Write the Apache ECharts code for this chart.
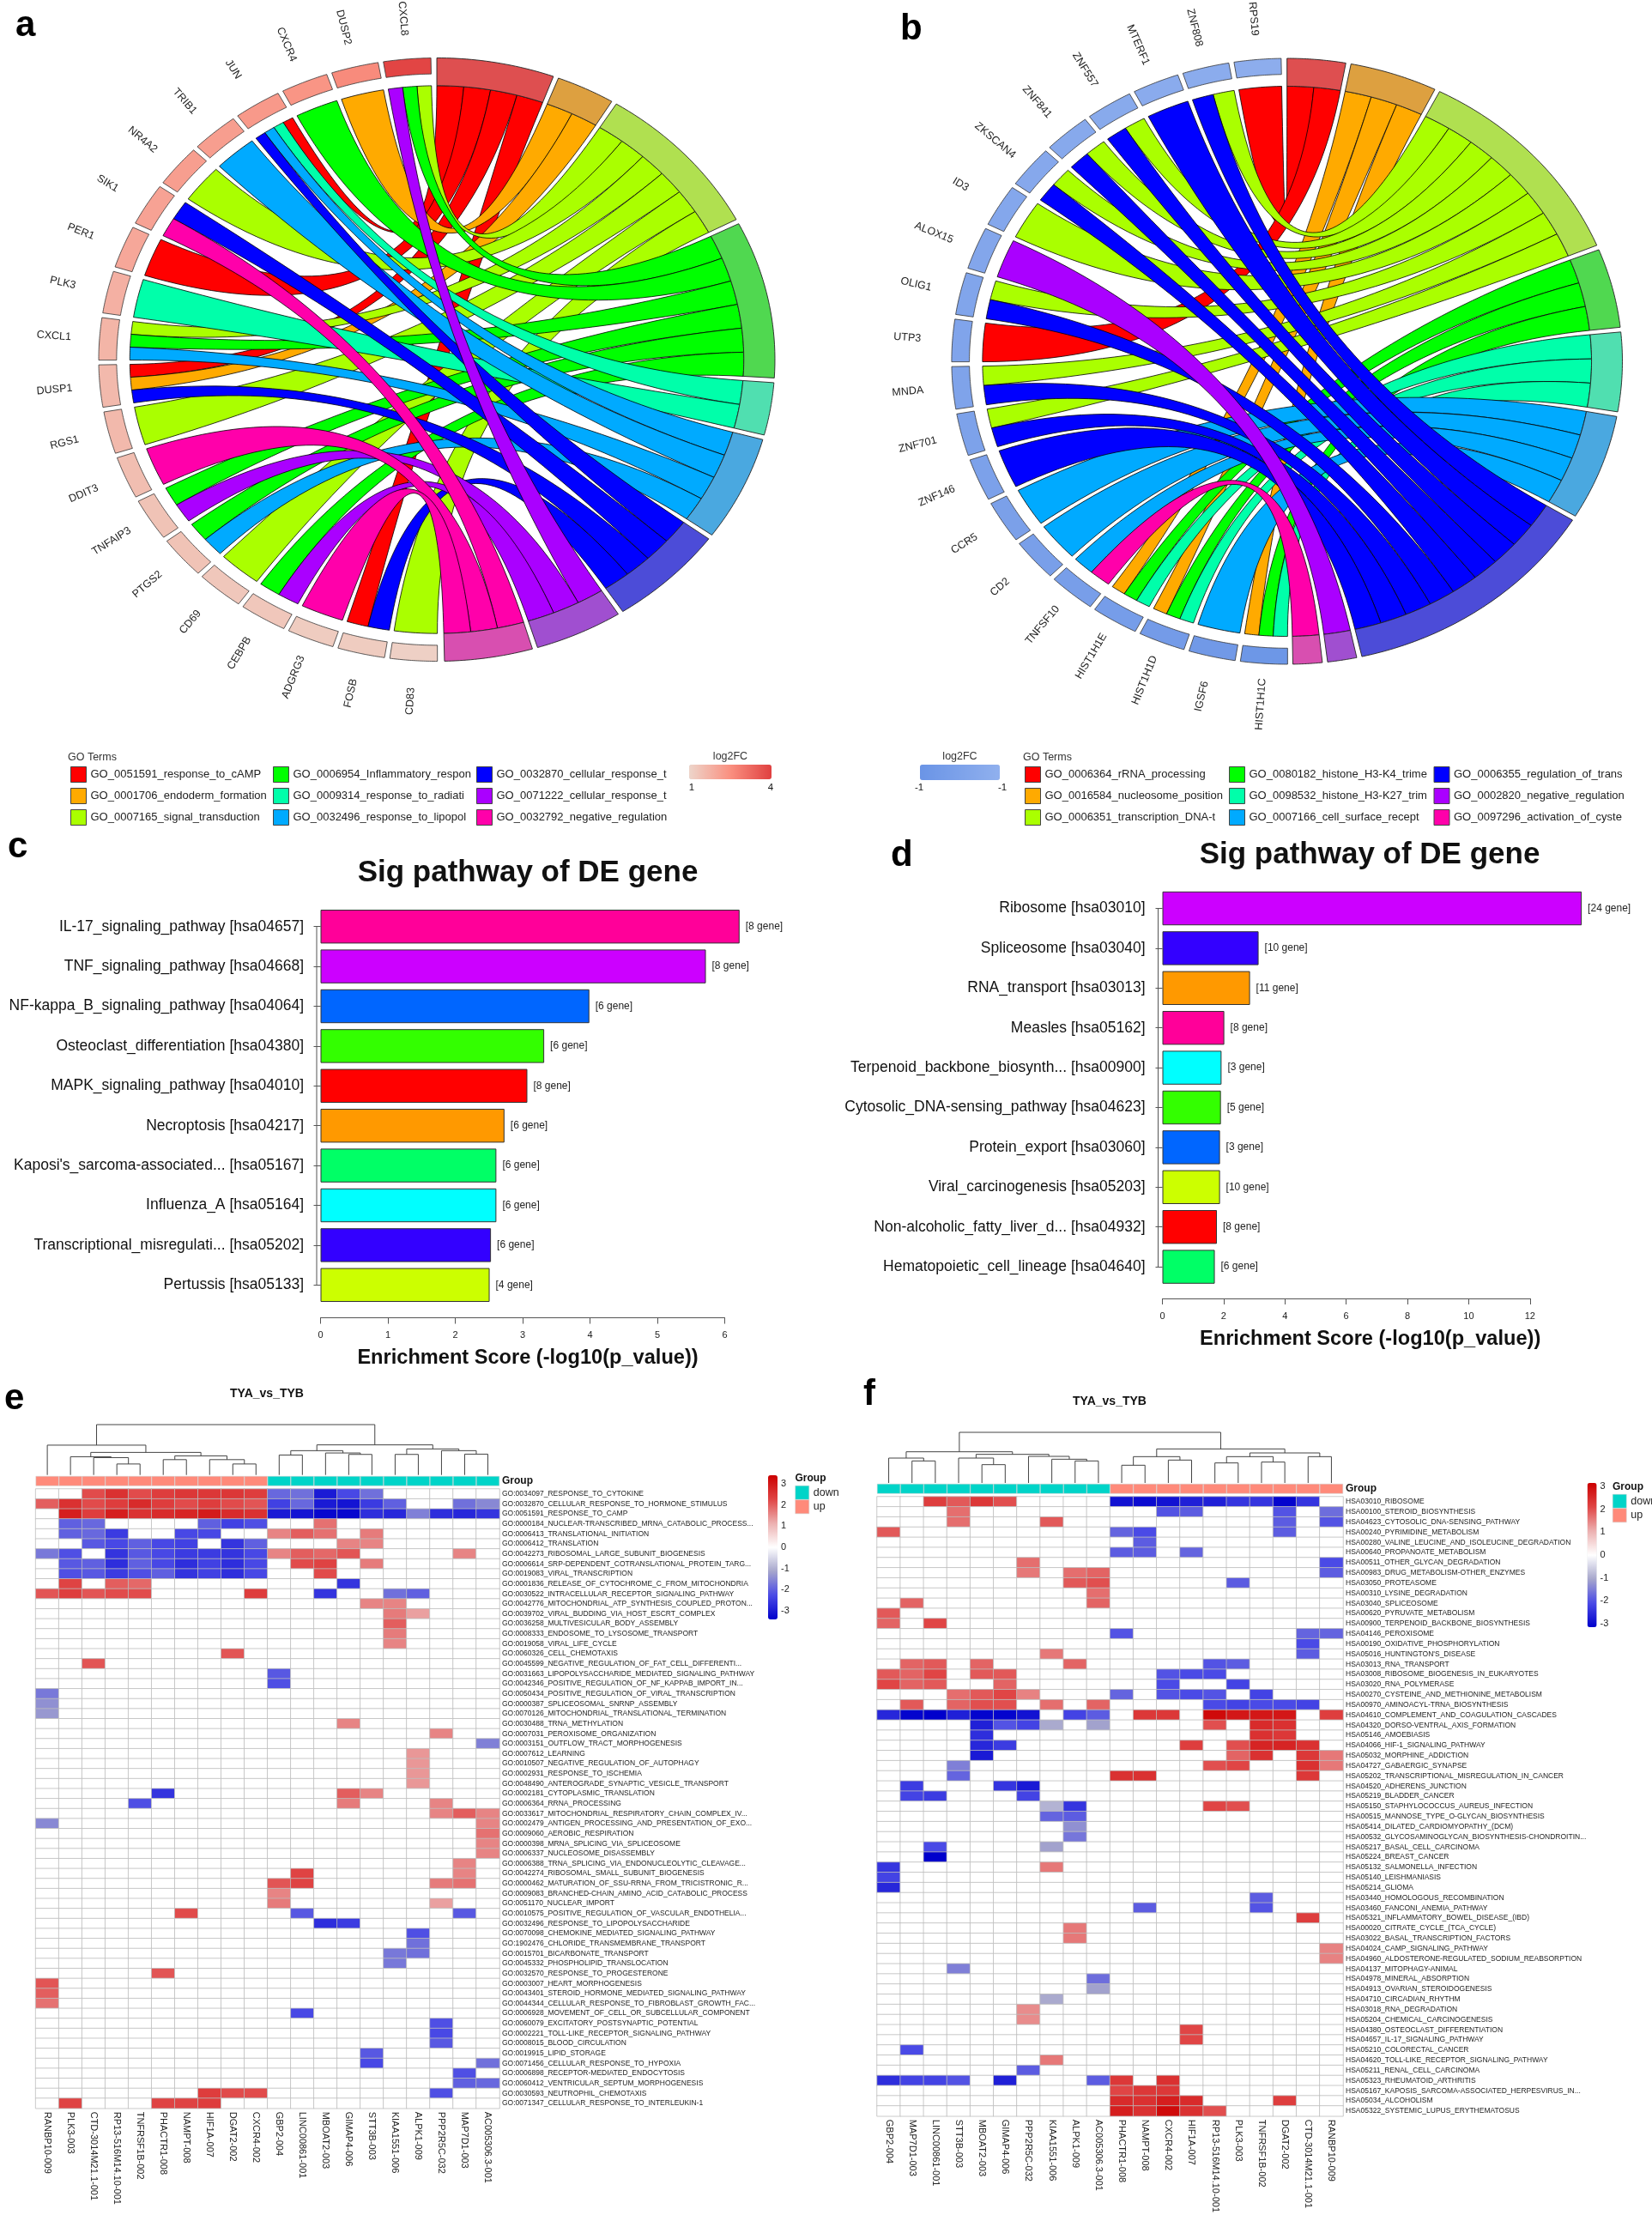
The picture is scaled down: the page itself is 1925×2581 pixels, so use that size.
<!DOCTYPE html>
<html><head><meta charset="utf-8">
<style>html,body{margin:0;padding:0;background:#fff}#main{width:1925px;height:2581px}</style>
<script src="https://cdn.jsdelivr.net/npm/echarts@6/dist/echarts.min.js"></script>
</head><body><div id="main"></div>
<script>
// ---------- DATA: chord a ----------
const termsA = ['GO_0051591_response_to_cAMP','GO_0001706_endoderm_formation','GO_0007165_signal_transduction','GO_0006954_Inflammatory_respon','GO_0009314_response_to_radiati','GO_0032496_response_to_lipopol','GO_0032870_cellular_response_t','GO_0071222_cellular_response_t','GO_0032792_negative_regulation'];
const genesA = ['CXCL8','DUSP2','CXCR4','JUN','TRIB1','NR4A2','SIK1','PER1','PLK3','CXCL1','DUSP1','RGS1','DDIT3','TNFAIP3','PTGS2','CD69','CEBPB','ADGRG3','FOSB','CD83'];
const fcA = [3.9,2.6,2.4,2.3,2.2,2.2,2.1,2.0,1.8,1.7,1.6,1.6,1.5,1.4,1.4,1.3,1.3,1.2,1.2,1.1];
const linksA = [[2,3,7],[1],[3],[0,4,5,6],[5],[2],[6,8],[0],[4],[2,3,5],[0,1,6],[2],[8],[3,7],[3,5],[2],[3,7],[8],[0,6],[2]];
// ---------- DATA: chord b ----------
const termsB = ['GO_0006364_rRNA_processing','GO_0016584_nucleosome_position','GO_0006351_transcription_DNA-t','GO_0080182_histone_H3-K4_trime','GO_0098532_histone_H3-K27_trim','GO_0007166_cell_surface_recept','GO_0006355_regulation_of_trans','GO_0002820_negative_regulation','GO_0097296_activation_of_cyste'];
const genesB = ['RPS19','ZNF808','MTERF1','ZNF557','ZNF841','ZKSCAN4','ID3','ALOX15','OLIG1','UTP3','MNDA','ZNF701','ZNF146','CCR5','CD2','TNFSF10','HIST1H1E','HIST1H1D','IGSF6','HIST1H1C'];
const fcB = [-1.0,-1.02,-1.04,-1.06,-1.08,-1.1,-1.12,-1.14,-1.16,-1.18,-1.2,-1.22,-1.24,-1.26,-1.28,-1.3,-1.32,-1.36,-1.4,-1.45];
const linksB = [[0],[2,6],[6],[2,6],[2,6],[2,6],[2],[7],[2,6],[0],[2,6],[2,6],[6],[5],[5],[5,8],[1,3,4],[1,3,4],[5],[1,3,4]];
// ---------- DATA: bars ----------
const pathC = ['IL-17_signaling_pathway [hsa04657]','TNF_signaling_pathway [hsa04668]','NF-kappa_B_signaling_pathway [hsa04064]','Osteoclast_differentiation [hsa04380]','MAPK_signaling_pathway [hsa04010]','Necroptosis [hsa04217]',"Kaposi's_sarcoma-associated... [hsa05167]",'Influenza_A [hsa05164]','Transcriptional_misregulati... [hsa05202]','Pertussis [hsa05133]'];
const scoreC = [6.22,5.72,3.99,3.32,3.07,2.73,2.61,2.61,2.53,2.51];
const geneC = [8,8,6,6,8,6,6,6,6,4];
const pathD = ['Ribosome [hsa03010]','Spliceosome [hsa03040]','RNA_transport [hsa03013]','Measles [hsa05162]','Terpenoid_backbone_biosynth... [hsa00900]','Cytosolic_DNA-sensing_pathway [hsa04623]','Protein_export [hsa03060]','Viral_carcinogenesis [hsa05203]','Non-alcoholic_fatty_liver_d... [hsa04932]','Hematopoietic_cell_lineage [hsa04640]'];
const scoreD = [13.69,3.14,2.86,2.02,1.93,1.91,1.88,1.88,1.78,1.71];
const geneD = [24,10,11,8,3,5,3,10,8,6];
// ---------- DATA: heatmap e ----------
const colsE = ['RANBP10-009','PLK3-003','CTD-3014M21.1-001','RP13-516M14.10-001','TNFRSF1B-002','PHACTR1-008','NAMPT-008','HIF1A-007','DGAT2-002','CXCR4-002','GBP2-004','LINC00861-001','MBOAT2-003','GIMAP4-006','STT3B-003','KIAA1551-006','ALPK1-009','PPP2R5C-032','MAP7D1-003','AC005306.3-001'];
const groupE = ['up','up','up','up','up','up','up','up','up','up','down','down','down','down','down','down','down','down','down','down'];
const rowsE = ['GO:0034097_RESPONSE_TO_CYTOKINE','GO:0032870_CELLULAR_RESPONSE_TO_HORMONE_STIMULUS','GO:0051591_RESPONSE_TO_CAMP','GO:0000184_NUCLEAR-TRANSCRIBED_MRNA_CATABOLIC_PROCESS...','GO:0006413_TRANSLATIONAL_INITIATION','GO:0006412_TRANSLATION','GO:0042273_RIBOSOMAL_LARGE_SUBUNIT_BIOGENESIS','GO:0006614_SRP-DEPENDENT_COTRANSLATIONAL_PROTEIN_TARG...','GO:0019083_VIRAL_TRANSCRIPTION','GO:0001836_RELEASE_OF_CYTOCHROME_C_FROM_MITOCHONDRIA','GO:0030522_INTRACELLULAR_RECEPTOR_SIGNALING_PATHWAY','GO:0042776_MITOCHONDRIAL_ATP_SYNTHESIS_COUPLED_PROTON...','GO:0039702_VIRAL_BUDDING_VIA_HOST_ESCRT_COMPLEX','GO:0036258_MULTIVESICULAR_BODY_ASSEMBLY','GO:0008333_ENDOSOME_TO_LYSOSOME_TRANSPORT','GO:0019058_VIRAL_LIFE_CYCLE','GO:0060326_CELL_CHEMOTAXIS','GO:0045599_NEGATIVE_REGULATION_OF_FAT_CELL_DIFFERENTI...','GO:0031663_LIPOPOLYSACCHARIDE_MEDIATED_SIGNALING_PATHWAY','GO:0042346_POSITIVE_REGULATION_OF_NF_KAPPAB_IMPORT_IN...','GO:0050434_POSITIVE_REGULATION_OF_VIRAL_TRANSCRIPTION','GO:0000387_SPLICEOSOMAL_SNRNP_ASSEMBLY','GO:0070126_MITOCHONDRIAL_TRANSLATIONAL_TERMINATION','GO:0030488_TRNA_METHYLATION','GO:0007031_PEROXISOME_ORGANIZATION','GO:0003151_OUTFLOW_TRACT_MORPHOGENESIS','GO:0007612_LEARNING','GO:0010507_NEGATIVE_REGULATION_OF_AUTOPHAGY','GO:0002931_RESPONSE_TO_ISCHEMIA','GO:0048490_ANTEROGRADE_SYNAPTIC_VESICLE_TRANSPORT','GO:0002181_CYTOPLASMIC_TRANSLATION','GO:0006364_RRNA_PROCESSING','GO:0033617_MITOCHONDRIAL_RESPIRATORY_CHAIN_COMPLEX_IV...','GO:0002479_ANTIGEN_PROCESSING_AND_PRESENTATION_OF_EXO...','GO:0009060_AEROBIC_RESPIRATION','GO:0000398_MRNA_SPLICING_VIA_SPLICEOSOME','GO:0006337_NUCLEOSOME_DISASSEMBLY','GO:0006388_TRNA_SPLICING_VIA_ENDONUCLEOLYTIC_CLEAVAGE...','GO:0042274_RIBOSOMAL_SMALL_SUBUNIT_BIOGENESIS','GO:0000462_MATURATION_OF_SSU-RRNA_FROM_TRICISTRONIC_R...','GO:0009083_BRANCHED-CHAIN_AMINO_ACID_CATABOLIC_PROCESS','GO:0051170_NUCLEAR_IMPORT','GO:0010575_POSITIVE_REGULATION_OF_VASCULAR_ENDOTHELIA...','GO:0032496_RESPONSE_TO_LIPOPOLYSACCHARIDE','GO:0070098_CHEMOKINE_MEDIATED_SIGNALING_PATHWAY','GO:1902476_CHLORIDE_TRANSMEMBRANE_TRANSPORT','GO:0015701_BICARBONATE_TRANSPORT','GO:0045332_PHOSPHOLIPID_TRANSLOCATION','GO:0032570_RESPONSE_TO_PROGESTERONE','GO:0003007_HEART_MORPHOGENESIS','GO:0043401_STEROID_HORMONE_MEDIATED_SIGNALING_PATHWAY','GO:0044344_CELLULAR_RESPONSE_TO_FIBROBLAST_GROWTH_FAC...','GO:0006928_MOVEMENT_OF_CELL_OR_SUBCELLULAR_COMPONENT','GO:0060079_EXCITATORY_POSTSYNAPTIC_POTENTIAL','GO:0002221_TOLL-LIKE_RECEPTOR_SIGNALING_PATHWAY','GO:0008015_BLOOD_CIRCULATION','GO:0019915_LIPID_STORAGE','GO:0071456_CELLULAR_RESPONSE_TO_HYPOXIA','GO:0006898_RECEPTOR-MEDIATED_ENDOCYTOSIS','GO:0060412_VENTRICULAR_SEPTUM_MORPHOGENESIS','GO:0030593_NEUTROPHIL_CHEMOTAXIS','GO:0071347_CELLULAR_RESPONSE_TO_INTERLEUKIN-1'];
// each row: [column, value] pairs for the coloured cells
const cellsE = [
[[2,2.2],[3,2.6],[4,2.2],[5,2.4],[6,2.5],[7,2.5],[8,2.5],[9,2.4],[10,-1.9],[11,-1.8],[12,-3.0],[13,-2.3],[14,-1.8]],
[[0,2.0],[1,2.6],[2,2.2],[3,2.4],[4,2.7],[5,2.4],[6,2.2],[7,2.4],[8,2.2],[9,2.1],[10,-2.4],[11,-1.9],[12,-3.0],[13,-3.1],[14,-2.5],[15,-2.0],[18,-1.8],[19,-1.5]],
[[1,2.9],[2,2.4],[3,2.9],[4,2.6],[5,2.7],[6,2.8],[7,2.95],[8,2.7],[9,2.6],[10,-3.0],[11,-3.1],[12,-3.3],[13,-3.3],[14,-2.7],[15,-2.8],[16,-1.6],[17,-2.7],[18,-2.8],[19,-2.6]],
[[1,-2.0],[2,-1.9],[7,-2.0],[8,-2.4],[9,-2.2],[12,1.8]],
[[1,-2.0],[2,-1.9],[3,-2.5],[6,-2.3],[7,-2.3],[10,1.6],[11,2.0],[12,1.8],[14,1.7]],
[[2,-2.1],[3,-2.3],[4,-2.0],[5,-2.3],[6,-2.4],[8,-2.6],[9,-2.0],[13,1.6],[14,1.6]],
[[0,-1.7],[1,-2.2],[3,-2.6],[4,-2.1],[5,-2.3],[6,-2.5],[7,-2.5],[8,-2.6],[9,-2.3],[10,1.6],[11,2.0],[12,1.9],[13,2.1],[18,1.6]],
[[1,-2.1],[2,-2.0],[3,-2.7],[4,-2.0],[5,-2.3],[6,-2.7],[7,-2.4],[8,-2.7],[9,-2.3],[11,2.2],[12,2.3],[14,1.7]],
[[1,-2.2],[2,-2.1],[3,-2.5],[4,-2.2],[5,-2.0],[6,-2.6],[7,-2.4],[8,-2.7],[9,-2.3],[12,2.2]],
[[1,2.3],[3,2.0],[4,1.9],[13,-2.6]],
[[0,2.1],[1,2.4],[2,2.1],[3,2.2],[4,2.2],[9,2.4],[12,-2.6],[15,-1.8],[16,-2.0]],
[[14,1.6],[15,1.6]],
[[15,1.7],[16,1.3]],
[[15,2.0]],
[[15,1.7]],
[[15,1.6]],
[[8,2.1]],
[[2,2.1]],
[[10,-2.1]],
[[10,-2.2]],
[[0,-1.7]],
[[0,-1.4]],
[[0,-1.3]],
[[13,1.6]],
[[17,1.6]],
[[19,-1.6]],
[[16,1.4]],
[[16,1.4]],
[[16,1.4]],
[[16,1.4]],
[[5,-2.6],[13,2.0],[14,1.6]],
[[4,-2.2],[13,1.7],[17,1.6]],
[[17,1.6],[18,2.0],[19,1.6]],
[[0,-1.5],[19,1.6]],
[[19,1.8]],
[[19,1.6]],
[[19,1.6]],
[[18,1.6]],
[[11,2.3],[18,1.6]],
[[10,2.1],[11,2.3],[17,1.7],[18,1.8]],
[[10,1.6]],
[[10,1.7],[17,1.3]],
[[6,2.2],[11,-2.1],[18,-2.1]],
[[12,-2.7],[13,-2.5]],
[[16,-2.2]],
[[16,-1.8]],
[[15,-1.7],[16,-1.8]],
[[15,-1.7]],
[[5,2.1]],
[[0,2.1]],
[[0,2.0]],
[[0,1.8]],
[[11,-2.3]],
[[17,-2.2]],
[[17,-2.3]],
[[17,-2.1]],
[[14,-2.1]],
[[14,-2.3],[19,-1.8]],
[[18,-2.2]],
[[18,-2.0],[19,-1.9]],
[[7,2.4],[8,2.2],[9,2.2],[17,-2.2]],
[[1,2.3],[5,2.3],[6,2.3],[7,2.4]]
];
// clustering: [left, right, height]; negative = leaf -(i+1), positive = earlier merge (1-based)
const treeE = [[-4,-5,38],[-3,1,60],[-2,2,63],[-6,-7,53],[-9,-10,38],[-8,5,53],[4,6,66],[3,7,78],[-1,8,103],[-11,-12,69],[-14,-15,71],[-13,11,76],[10,12,84],[-16,-17,71],[-19,-20,72],[-18,15,84],[14,16,90],[13,17,104],[9,18,174]];
// ---------- DATA: heatmap f ----------
const colsF = ['GBP2-004','MAP7D1-003','LINC00861-001','STT3B-003','MBOAT2-003','GIMAP4-006','PPP2R5C-032','KIAA1551-006','ALPK1-009','AC005306.3-001','PHACTR1-008','NAMPT-008','CXCR4-002','HIF1A-007','RP13-516M14.10-001','PLK3-003','TNFRSF1B-002','DGAT2-002','CTD-3014M21.1-001','RANBP10-009'];
const groupF = ['down','down','down','down','down','down','down','down','down','down','up','up','up','up','up','up','up','up','up','up'];
const rowsF = ['HSA03010_RIBOSOME','HSA00100_STEROID_BIOSYNTHESIS','HSA04623_CYTOSOLIC_DNA-SENSING_PATHWAY','HSA00240_PYRIMIDINE_METABOLISM','HSA00280_VALINE_LEUCINE_AND_ISOLEUCINE_DEGRADATION','HSA00640_PROPANOATE_METABOLISM','HSA00511_OTHER_GLYCAN_DEGRADATION','HSA00983_DRUG_METABOLISM-OTHER_ENZYMES','HSA03050_PROTEASOME','HSA00310_LYSINE_DEGRADATION','HSA03040_SPLICEOSOME','HSA00620_PYRUVATE_METABOLISM','HSA00900_TERPENOID_BACKBONE_BIOSYNTHESIS','HSA04146_PEROXISOME','HSA00190_OXIDATIVE_PHOSPHORYLATION',"HSA05016_HUNTINGTON'S_DISEASE",'HSA03013_RNA_TRANSPORT','HSA03008_RIBOSOME_BIOGENESIS_IN_EUKARYOTES','HSA03020_RNA_POLYMERASE','HSA00270_CYSTEINE_AND_METHIONINE_METABOLISM','HSA00970_AMINOACYL-TRNA_BIOSYNTHESIS','HSA04610_COMPLEMENT_AND_COAGULATION_CASCADES','HSA04320_DORSO-VENTRAL_AXIS_FORMATION','HSA05146_AMOEBIASIS','HSA04066_HIF-1_SIGNALING_PATHWAY','HSA05032_MORPHINE_ADDICTION','HSA04727_GABAERGIC_SYNAPSE','HSA05202_TRANSCRIPTIONAL_MISREGULATION_IN_CANCER','HSA04520_ADHERENS_JUNCTION','HSA05219_BLADDER_CANCER','HSA05150_STAPHYLOCOCCUS_AUREUS_INFECTION','HSA00515_MANNOSE_TYPE_O-GLYCAN_BIOSYNTHESIS','HSA05414_DILATED_CARDIOMYOPATHY_(DCM)','HSA00532_GLYCOSAMINOGLYCAN_BIOSYNTHESIS-CHONDROITIN...','HSA05217_BASAL_CELL_CARCINOMA','HSA05224_BREAST_CANCER','HSA05132_SALMONELLA_INFECTION','HSA05140_LEISHMANIASIS','HSA05214_GLIOMA','HSA03440_HOMOLOGOUS_RECOMBINATION','HSA03460_FANCONI_ANEMIA_PATHWAY','HSA05321_INFLAMMATORY_BOWEL_DISEASE_(IBD)','HSA00020_CITRATE_CYCLE_(TCA_CYCLE)','HSA03022_BASAL_TRANSCRIPTION_FACTORS','HSA04024_CAMP_SIGNALING_PATHWAY','HSA04960_ALDOSTERONE-REGULATED_SODIUM_REABSORPTION','HSA04137_MITOPHAGY-ANIMAL','HSA04978_MINERAL_ABSORPTION','HSA04913_OVARIAN_STEROIDOGENESIS','HSA04710_CIRCADIAN_RHYTHM','HSA03018_RNA_DEGRADATION','HSA05204_CHEMICAL_CARCINOGENESIS','HSA04380_OSTEOCLAST_DIFFERENTIATION','HSA04657_IL-17_SIGNALING_PATHWAY','HSA05210_COLORECTAL_CANCER','HSA04620_TOLL-LIKE_RECEPTOR_SIGNALING_PATHWAY','HSA05211_RENAL_CELL_CARCINOMA','HSA05323_RHEUMATOID_ARTHRITIS','HSA05167_KAPOSIS_SARCOMA-ASSOCIATED_HERPESVIRUS_IN...','HSA05034_ALCOHOLISM','HSA05322_SYSTEMIC_LUPUS_ERYTHEMATOSUS'];
const cellsF = [
[[2,2.2],[3,1.9],[4,2.3],[5,2.0],[10,-2.9],[11,-3.0],[12,-2.9],[13,-2.7],[14,-2.7],[15,-2.4],[16,-2.4],[17,-3.1],[18,-2.4]],
[[3,1.7],[12,-2.0],[13,-1.9],[17,-2.0],[19,-1.7]],
[[3,1.7],[7,1.9],[17,-1.9],[19,-2.0]],
[[0,1.9],[10,-1.8],[11,-2.1],[17,-1.9]],
[[11,-1.9]],
[[10,-1.9],[11,-1.9],[13,-1.8]],
[[6,1.7],[19,-2.1]],
[[6,1.6],[8,1.7],[9,1.8],[19,-1.9]],
[[8,1.9],[9,2.0],[15,-1.9]],
[[9,1.7]],
[[1,1.8],[9,1.8]],
[[0,1.9]],
[[0,1.8],[2,2.1]],
[[10,-2.0],[18,-1.8],[19,-1.8]],
[[18,-2.1]],
[[7,1.6],[18,-1.9]],
[[1,1.8],[2,1.9],[4,1.8],[8,1.8],[14,-2.0],[15,-1.9]],
[[0,1.9],[1,1.8],[2,2.1],[4,1.9],[5,1.9],[12,-2.0],[13,-2.1],[14,-2.1]],
[[0,2.1],[1,1.8],[2,1.9],[5,1.8],[12,-2.1],[15,-2.2]],
[[3,1.7],[4,1.9],[5,2.1],[6,1.5],[10,-1.8],[12,-2.0],[13,-2.1],[14,-2.0],[16,-2.2]],
[[1,1.9],[3,1.8],[4,2.0],[5,2.0],[7,1.7],[9,1.8],[14,-2.1],[15,-2.2],[16,-2.1],[17,-2.1],[18,-2.2]],
[[0,-2.6],[1,-3.1],[2,-3.3],[3,-2.7],[4,-3.1],[5,-3.1],[6,-2.9],[8,-2.2],[9,-1.9],[11,2.3],[12,2.3],[14,3.0],[15,2.8],[16,2.8],[17,2.8],[19,2.2]],
[[4,-2.7],[5,-2.0],[6,-2.2],[7,-1.0],[9,-1.1],[14,2.0],[16,2.5],[17,2.4]],
[[4,-2.5],[16,2.4],[17,2.3]],
[[4,-2.6],[5,-2.3],[13,2.2],[15,2.0],[16,2.6],[17,2.6],[18,2.4]],
[[4,-2.8],[15,1.8],[16,2.4],[18,2.3],[19,1.6]],
[[3,-1.5],[14,2.0],[15,2.1],[18,2.4],[19,1.6]],
[[3,-1.8],[10,2.4],[11,2.4],[18,2.3]],
[[1,-2.3],[5,-2.4],[6,-2.8]],
[[1,-2.2],[2,-2.3],[6,-2.2]],
[[7,-0.9],[8,-2.4],[14,2.1],[15,2.0]],
[[7,-1.8],[8,-1.9]],
[[8,-1.3]],
[[8,-1.6]],
[[2,-2.1],[7,-1.1]],
[[2,-3.3]],
[[0,-2.4],[7,1.6]],
[[0,-2.2]],
[[0,-2.6]],
[[16,-1.9]],
[[11,-1.9],[16,-2.0]],
[[18,2.2]],
[[8,1.6]],
[[8,1.6]],
[[19,1.5]],
[[19,1.5]],
[[3,-1.5]],
[[9,-1.7]],
[[9,-1.1]],
[[7,-1.0]],
[[6,1.4]],
[[6,1.4]],
[[13,2.1]],
[[13,2.1]],
[[1,-2.1]],
[[7,1.6]],
[[6,-1.9]],
[[0,-2.5],[1,-2.2],[2,-2.2],[3,-2.0],[5,-2.7],[9,-1.9],[10,2.3],[12,2.4]],
[[10,2.1],[11,2.3],[12,2.3]],
[[10,2.5],[11,2.4],[12,2.7],[13,2.5],[17,2.2]],
[[10,2.7],[11,2.4],[12,3.0],[13,2.4],[14,2.0]]
];
const treeF = [[-2,-3,77],[-1,1,87],[-5,-6,64],[-4,3,87],[-9,-10,77],[-8,5,83],[-7,6,93],[4,7,100],[2,8,109],[-11,-12,62],[-13,-14,80],[10,11,92],[-15,-16,70],[-17,-18,73],[13,14,92],[-19,-20,92],[15,16,105],[12,17,119],[9,18,177]];

// ---------- STYLES ----------
const FONT = '"Liberation Sans"';
const ribbonColors = ['#ff0000','#ffaa00','#aaff00','#00ff00','#00ffaa','#00aaff','#0000ff','#aa00ff','#ff00aa'];
const ringColors = ['#de4f50','#dda040','#b0e050','#50d850','#50dfb0','#4aa8e0','#4c4cd8','#a04fd0','#d84fb0'];
const barColorsC = ['#FF0099','#CC00FF','#0066FF','#33FF00','#FF0000','#FF9900','#00FF66','#00FFFF','#3300FF','#CCFF00'];
const barColorsD = ['#CC00FF','#3300FF','#FF9900','#FF0099','#00FFFF','#33FF00','#0066FF','#CCFF00','#FF0000','#00FF66'];
const heatRamp = ['#0000cc','#4a4ae6','#a6a6cc','#ffffff','#ecb0b0','#e04545','#cc0000'];
const groupColors = {up:'#ff8a7a', down:'#00d4c8'};

const grid=[],xAxis=[],yAxis=[],series=[],visualMap=[],legend=[],graphic=[];
function text(t,x,y,size,opt){opt=opt||{};graphic.push({type:'text',x:x,y:y,silent:true,rotation:opt.rot||0,style:{text:t,fill:opt.fill||'#111',font:(opt.bold?'bold ':'')+size+'px '+FONT,align:opt.align||'left',verticalAlign:'middle'}});}
function addGrid(rect,xa,ya){grid.push(Object.assign({containLabel:false},rect));const i=grid.length-1;xAxis.push(Object.assign({gridIndex:i},xa));yAxis.push(Object.assign({gridIndex:i},ya));return i;}
const hiddenValue=(min,max)=>({type:'value',min:min,max:max,show:false,splitLine:{show:false}});

// ---------- chord ----------
function chord(cfg){
  const g=addGrid({left:cfg.cx-cfg.rx,top:cfg.cy-cfg.ry,width:2*cfg.rx,height:2*cfg.ry},hiddenValue(-1,1),hiddenValue(-1,1));
  const genes=cfg.genes,links=cfg.links,terms=cfg.terms;
  const counts=terms.map((_,t)=>links.reduce((s,l)=>s+(l.includes(t)?1:0),0));
  const total=counts.reduce((a,b)=>a+b,0);
  const unit=(cfg.span-cfg.gap*(terms.length-1))/total;
  const starts=[];let pos=0;counts.forEach((c,i)=>{starts[i]=pos;pos+=c*unit+cfg.gap;});
  const geneDeg=(i,frac)=>360-(1+9*i+8.1*frac);
  const used=terms.map(()=>0);
  const byTerm=terms.map(()=>[]);
  links.forEach((l,gi)=>l.forEach((t,si)=>{byTerm[t].push([gi,si,l.length,t,used[t]]);used[t]++;}));
  const unitPt=(r,d)=>{const a=d*Math.PI/180;return [r*Math.sin(a),r*Math.cos(a)];};
  const arc=(r,d0,d1,n)=>{const o=[];for(let k=0;k<=n;k++)o.push(unitPt(r,d0+(d1-d0)*k/n));return o;};
  const bez=(A,B,n)=>{const o=[];for(let k=1;k<n;k++){const s=k/n,p=(1-s)*(1-s),q=s*s;o.push([p*A[0]+q*B[0],p*A[1]+q*B[1]]);}return o;};
  const ring=(r0,r1,d0,d1)=>arc(r1,d0,d1,24).concat(arc(r0,d1,d0,24));
  const base={coordinateSystem:'cartesian2d',xAxisIndex:g,yAxisIndex:g,type:'custom',silent:true,animation:false,clip:false};
  // ribbons, one series per term so later terms lie on top
  terms.forEach((name,t)=>{
    series.push(Object.assign({},base,{name:name,itemStyle:{color:ribbonColors[t],borderColor:'#333',borderWidth:1},
      data:byTerm[t],
      renderItem:(p,api)=>{
        const gi=api.value(0),si=api.value(1),n=api.value(2),tt=api.value(3),st=api.value(4);
        const g0=geneDeg(gi,si/n),g1=geneDeg(gi,(si+1)/n);
        const t0=starts[tt]+st*unit,t1=t0+unit,R=.908;
        const a=arc(R,g0,g1,8),b=arc(R,t1,t0,8);
        const pts=a.concat(bez(a[a.length-1],b[0],50),b,bez(b[b.length-1],a[0],50));
        return {type:'polygon',shape:{points:pts.map(q=>api.coord(q))},style:{fill:ribbonColors[tt],stroke:'#000',lineWidth:.8}};
      }}));
  });
  // term ring
  series.push(Object.assign({},base,{data:terms.map((_,t)=>[t]),renderItem:(p,api)=>{
    const t=api.value(0),d0=starts[t],d1=d0+counts[t]*unit;
    return {type:'polygon',shape:{points:ring(.908,1,d0,d1).map(q=>api.coord(q))},style:{fill:ringColors[t],stroke:'#222',lineWidth:.9}};
  }}));
  // gene ring + labels, coloured by log2FC through a visualMap
  const idx=series.length;
  series.push(Object.assign({},base,{data:genes.map((_,i)=>[i,cfg.fc[i]]),renderItem:(p,api)=>{
    const i=api.value(0),d0=geneDeg(i,0),d1=geneDeg(i,1);
    const mid=geneDeg(i,.5),c=api.coord(unitPt(1.135,mid)),phi=360-mid;
    return {type:'group',children:[
      {type:'polygon',shape:{points:ring(.947,1,d0,d1).map(q=>api.coord(q))},style:{fill:api.visual('color'),stroke:'#333',lineWidth:.8}},
      {type:'text',x:c[0],y:c[1],rotation:-(90-phi)*Math.PI/180,style:{text:genes[i],align:'center',verticalAlign:'middle',fill:'#222',font:'12.5px '+FONT}}
    ]};
  }}));
  visualMap.push({type:'continuous',seriesIndex:idx,dimension:1,min:cfg.vmin,max:cfg.vmax,orient:'horizontal',calculable:false,hoverLink:false,
    left:cfg.bar[0],top:cfg.bar[1],itemWidth:cfg.bar[3],itemHeight:cfg.bar[2],padding:0,text:null,showLabel:false,inRange:{color:cfg.ramp}});
  // legend in three columns
  [0,1,2].forEach(c=>legend.push({orient:'vertical',left:cfg.legendX[c],top:893,padding:0,itemWidth:18,itemHeight:18,itemGap:6,icon:'rect',selectedMode:false,
    data:terms.slice(c*3,c*3+3),textStyle:{fontSize:13,fontFamily:FONT,color:'#222'},itemStyle:{borderColor:'#444',borderWidth:1}}));
}
chord({cx:509,cy:419,rx:394,ry:351.5,genes:genesA,terms:termsA,links:linksA,fc:fcA,span:178.7,gap:.9,vmin:1,vmax:4,ramp:['#edd5ca','#fa9080','#e04040'],bar:[803,891,96,17],legendX:[82,318,555]});
chord({cx:1499.7,cy:421,rx:390.8,ry:353,genes:genesB,terms:termsB,links:linksB,fc:fcB,span:179,gap:.9,vmin:-1.5,vmax:-.95,ramp:['#6a94e6','#90b0ee'],bar:[1072,891,93,18],legendX:[1194,1432,1670.5]});
text('GO Terms',79,883,12.5,{fill:'#333'});text('log2FC',851,882,12.5,{align:'center',fill:'#333'});text('1',806,918,11.5,{align:'center'});text('4',898,918,11.5,{align:'center'});
text('GO Terms',1192,883,12.5,{fill:'#333'});text('log2FC',1118.5,882,12.5,{align:'center',fill:'#333'});text('-1',1071,918,11.5,{align:'center'});text('-1',1168,918,11.5,{align:'center'});

// ---------- bars ----------
function bars(cfg){
  const g=addGrid({left:cfg.left,top:cfg.top,width:cfg.width,height:464},
    {type:'value',min:0,max:cfg.max,interval:cfg.step,offset:cfg.xOffset,position:'bottom',splitLine:{show:false},
     axisLine:{show:true,onZero:false,lineStyle:{color:'#555',width:1}},axisTick:{show:true,length:7,lineStyle:{color:'#555'}},
     axisLabel:{fontSize:11,color:'#222',margin:15,fontFamily:FONT},
     name:'Enrichment Score (-log10(p_value))',nameLocation:'middle',nameGap:35,nameTextStyle:{fontSize:23.6,fontWeight:'bold',color:'#111',fontFamily:FONT,padding:[0,0,0,cfg.namePad]}},
    {type:'category',inverse:true,data:cfg.names,offset:cfg.yOffset,position:'left',axisLine:{show:false},
     axisTick:{show:true,alignWithLabel:true,length:8,lineStyle:{color:'#555'}},
     axisLabel:{interval:0,fontSize:17.5,color:'#111',margin:15,fontFamily:FONT},splitLine:{show:false}});
  series.push({type:'bar',xAxisIndex:g,yAxisIndex:g,barWidth:39.4,clip:false,silent:true,animation:false,
    data:cfg.values.map((v,i)=>({value:v,itemStyle:{color:cfg.colors[i],borderColor:'#333',borderWidth:1},
      label:{show:true,position:'right',distance:7,fontSize:12,color:'#222',fontFamily:FONT,formatter:'['+cfg.counts[i]+' gene]'}}))});
  // the y axis spine only runs from the first to the last label
  series.push({type:'custom',xAxisIndex:g,yAxisIndex:g,silent:true,animation:false,clip:false,data:[[0,0]],renderItem:(p,api)=>{
    const a=api.coord([0,0]),b=api.coord([0,cfg.names.length-1]);
    return {type:'line',shape:{x1:a[0]-cfg.yOffset,y1:a[1],x2:b[0]-cfg.yOffset,y2:b[1]},style:{stroke:'#555',lineWidth:1}};
  }});
  text('Sig pathway of DE gene',cfg.titleX,cfg.titleY,35,{bold:true,align:'center'});
}
bars({left:373.5,top:1056.5,width:471,max:6,step:1,xOffset:15,yOffset:4.5,names:pathC,values:scoreC,counts:geneC,colors:barColorsC,titleX:615,titleY:1017,namePad:12});
bars({left:1354.5,top:1035.3,width:428.3,max:12,step:2,xOffset:13.7,yOffset:5,names:pathD,values:scoreD,counts:geneD,colors:barColorsD,titleX:1596,titleY:996,namePad:56});

// ---------- heatmaps ----------
function treeRows(tree){
  const nodes=[];
  const at=v=>v<0?[-v-1+.5,0]:nodes[v-1];
  return tree.map(m=>{const a=at(m[0]),b=at(m[1]);nodes.push([(a[0]+b[0])/2,m[2]]);return [a[0],a[1],b[0],b[1],m[2]];});
}
function heat(cfg){
  const n=cfg.cols.length,X=cfg.x,W=cfg.w;
  const cells=[];cfg.rows.forEach((_,r)=>{const row=new Array(n).fill(0);cfg.cells[r].forEach(c=>row[c[0]]=c[1]);row.forEach((v,c)=>cells.push([c,r,v]));});
  // dendrogram
  const maxH=Math.max.apply(null,cfg.tree.map(m=>m[2]));
  const d=addGrid({left:X,top:cfg.dTop,width:W,height:cfg.dH},hiddenValue(0,n),hiddenValue(0,maxH));
  series.push({type:'custom',xAxisIndex:d,yAxisIndex:d,silent:true,animation:false,data:treeRows(cfg.tree),renderItem:(p,api)=>({
    type:'polyline',shape:{points:[api.coord([api.value(0),api.value(1)]),api.coord([api.value(0),api.value(4)]),api.coord([api.value(2),api.value(4)]),api.coord([api.value(2),api.value(3)])]},style:{stroke:'#444',lineWidth:1,fill:'none'}})});
  // annotation bar
  const a=addGrid({left:X,top:cfg.aTop,width:W,height:11.5},{type:'category',data:cfg.cols,show:false},hiddenValue(0,1));
  ['up','down'].forEach(k=>series.push({type:'bar',name:k,xAxisIndex:a,yAxisIndex:a,barWidth:'100%',barGap:'-100%',silent:true,animation:false,
    itemStyle:{color:groupColors[k],borderColor:'#ccc',borderWidth:.5},data:cfg.group.map(g=>g===k?1:'-')}));
  text('Group',X+W+3,cfg.aTop+6,12,{bold:true});
  // cells
  const h=addGrid({left:X,top:cfg.top,width:W,height:cfg.h},
    {type:'category',data:cfg.cols,position:'bottom',axisLine:{show:false},axisTick:{show:false},splitLine:{show:false},
     axisLabel:{interval:0,rotate:-90,fontSize:11,margin:4,color:'#222',fontFamily:FONT}},
    {type:'category',inverse:true,data:cfg.rows,position:'right',axisLine:{show:false},axisTick:{show:false},splitLine:{show:false},
     axisLabel:{interval:0,fontSize:8.5,margin:3,color:'#222',fontFamily:FONT}});
  const si=series.length;
  series.push({type:'heatmap',xAxisIndex:h,yAxisIndex:h,data:cells,silent:true,animation:false,itemStyle:{borderColor:'#bdbdbd',borderWidth:.8},progressive:0});
  visualMap.push({type:'continuous',seriesIndex:si,dimension:2,min:-cfg.vr,max:cfg.vr,orient:'vertical',calculable:false,hoverLink:false,showLabel:false,
    left:cfg.cbX,top:cfg.cbY,itemWidth:11,itemHeight:168,padding:0,text:null,inRange:{color:heatRamp}});
  // colour bar ticks
  addGrid({left:cfg.cbX,top:cfg.cbY,width:11,height:168},hiddenValue(0,1),
    {type:'value',min:-cfg.vr,max:cfg.vr,position:'right',axisLine:{show:false},axisTick:{show:false},splitLine:{show:false},
     axisLabel:{customValues:[-3,-2,-1,0,1,2,3],fontSize:11,margin:4,color:'#222',fontFamily:FONT}});
  // group legend
  text('Group',cfg.lgX,cfg.lgY,12,{bold:true});
  legend.push({orient:'vertical',left:cfg.lgX,top:cfg.lgY+8,padding:0,itemWidth:16,itemHeight:16,itemGap:0,icon:'rect',selectedMode:false,data:['down','up'],
    textStyle:{fontSize:12.5,fontFamily:FONT,color:'#222'},itemStyle:{borderColor:'#ccc',borderWidth:.5}});
  text('TYA_vs_TYB',cfg.tX,cfg.tY,14,{bold:true,align:'center'});
}
heat({x:41.6,w:540.4,top:1735,h:721.7,dTop:1660,dH:58.7,aTop:1720,cols:colsE,rows:rowsE,cells:cellsE,tree:treeE,group:groupE,vr:3.4,cbX:895,cbY:1719,lgX:926.5,lgY:1723,tX:311,tY:1624});
heat({x:1022,w:543,top:1744,h:722,dTop:1669,dH:59,aTop:1729,cols:colsF,rows:rowsF,cells:cellsF,tree:treeF,group:groupF,vr:3.15,cbX:1849.6,cbY:1728,lgX:1879,lgY:1733,tX:1293,tY:1633});

// ---------- panel letters ----------
[['a',18,30],['b',1049,34],['c',9,987],['d',1038,997],['e',5,1630],['f',1006,1625]].forEach(l=>text(l[0],l[1],l[2],42,{bold:true,fill:'#000'}));

const chart=echarts.init(document.getElementById('main'),null,{renderer:'canvas',width:1925,height:2581});
chart.setOption({animation:false,backgroundColor:'#fff',textStyle:{fontFamily:FONT},tooltip:{show:false},grid,xAxis,yAxis,series,visualMap,legend,graphic:{elements:graphic}});
</script></body></html>
